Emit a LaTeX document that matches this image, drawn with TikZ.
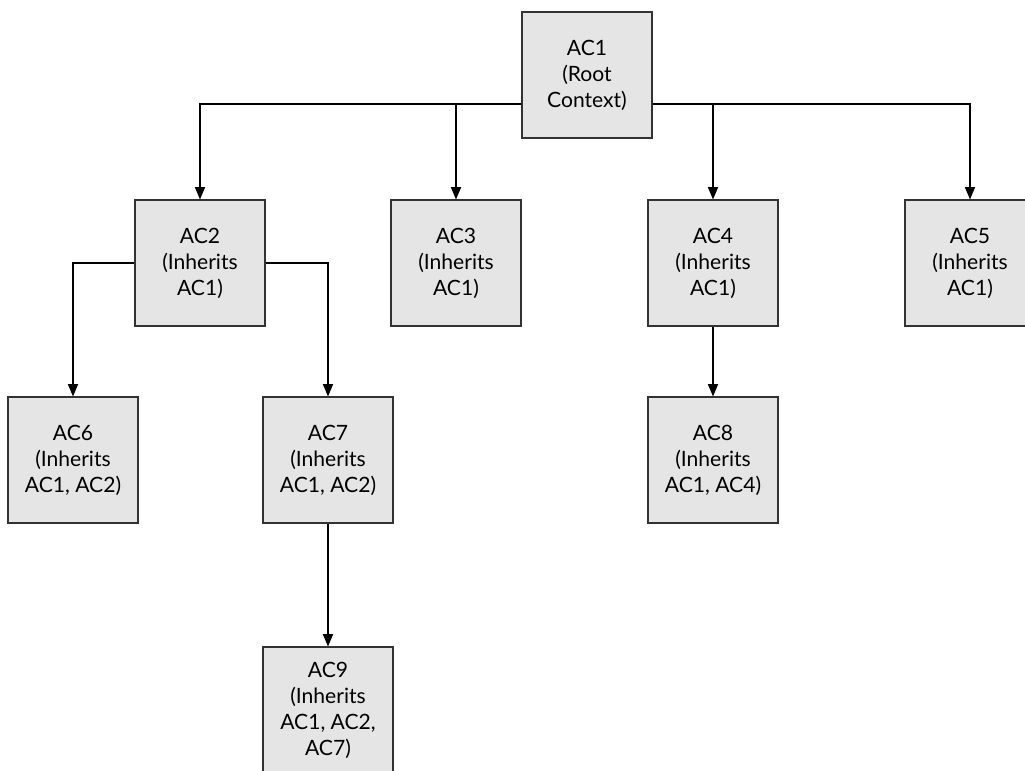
\documentclass[tikz,border=0pt]{standalone}
\usepackage{fontspec}
\setmainfont{Lato}
\usetikzlibrary{arrows}

\begin{document}
\begin{tikzpicture}[
  box/.style={draw=black!80, fill=black!10, line width=0.7pt, minimum width=2.6cm,
    minimum height=2.52cm, align=center, font=\fontsize{12}{14.8}\selectfont},
  >=triangle 45, line width=0.6pt]
  \useasboundingbox (0,0) rectangle (20.5,-15.4);
  \node[box] (ac1) at (11.74,-1.5) {AC1\\(Root\\Context)};
  \node[box] (ac2) at (4.0,-5.26) {AC2\\(Inherits\\AC1)};
  \node[box] (ac3) at (9.12,-5.26) {AC3\\(Inherits\\AC1)};
  \node[box] (ac4) at (14.26,-5.26) {AC4\\(Inherits\\AC1)};
  \node[box] (ac5) at (19.4,-5.26) {AC5\\(Inherits\\AC1)};
  \node[box] (ac6) at (1.46,-9.2) {AC6\\(Inherits\\AC1, AC2)};
  \node[box] (ac7) at (6.56,-9.2) {AC7\\(Inherits\\AC1, AC2)};
  \node[box] (ac8) at (14.26,-9.2) {AC8\\(Inherits\\AC1, AC4)};
  \node[box] (ac9) at (6.56,-14.2) {AC9\\(Inherits\\AC1, AC2,\\AC7)};
  \coordinate (bus) at (0,-2.08);
  % root level
  \draw[->] (ac1.west |- bus) -| (ac2.north);
  \draw[->] (ac1.west |- bus) -| (ac3.north);
  \draw[->] (ac1.east |- bus) -| (ac4.north);
  \draw[->] (ac1.east |- bus) -| (ac5.north);
  % second level
  \draw[->] (ac2.west) -| (ac6.north);
  \draw[->] (ac2.east) -| (ac7.north);
  \draw[->] (ac4) -- (ac8);
  \draw[->] (ac7) -- (ac9);
\end{tikzpicture}
\end{document}
